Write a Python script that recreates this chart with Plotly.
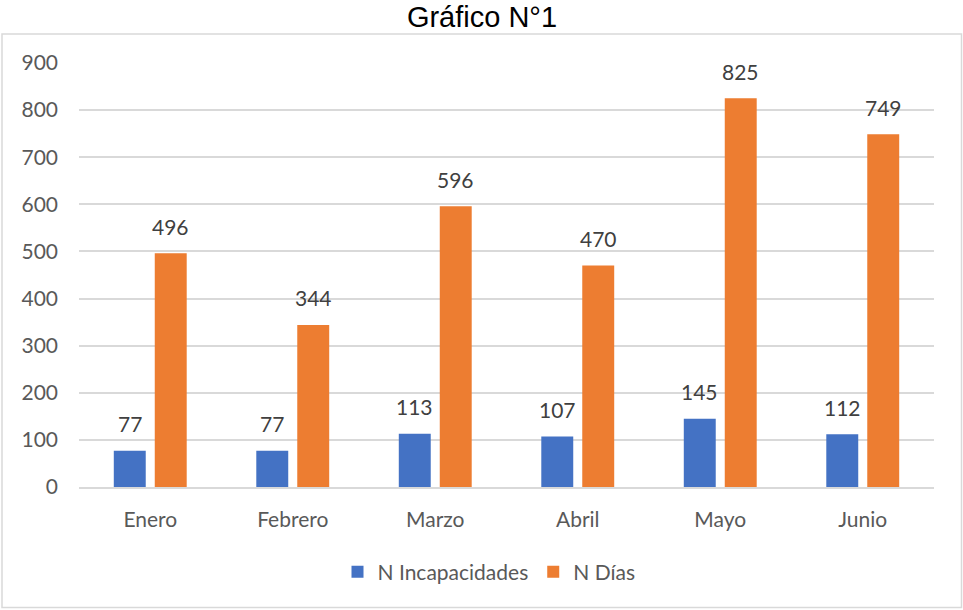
import plotly.graph_objects as go

meses = ["Enero", "Febrero", "Marzo", "Abril", "Mayo", "Junio"]
incapacidades = [77, 77, 113, 107, 145, 112]
dias = [496, 344, 596, 470, 825, 749]
y_ticks = [0, 100, 200, 300, 400, 500, 600, 700, 800, 900]

BLUE = "#4472C4"
ORANGE = "#ED7D31"
FONT = "Lato, 'Open Sans', sans-serif"
FS = 21

W, H = 963, 610
L, R, T, B = 79, 29, 63, 123
pw, ph = W - L - R, H - T - B

def px_x(x):
    return (x - L) / pw

def px_y(y):
    return (H - B - y) / ph

fig = go.Figure()
fig.add_trace(go.Bar(x=meses, y=incapacidades, name="N Incapacidades",
                     marker=dict(color=BLUE, line=dict(width=0))))
fig.add_trace(go.Bar(x=meses, y=dias, name="N Días",
                     marker=dict(color=ORANGE, line=dict(width=0))))

annotations = []
for series, shift in ((incapacidades, -20.5), (dias, 20.5)):
    for m, v in zip(meses, series):
        annotations.append(dict(x=m, y=v, xref="x", yref="y", text=str(v),
                                showarrow=False, xshift=shift, yshift=27,
                                font=dict(family=FONT, size=FS, color="#404040")))

fig.update_layout(
    width=W, height=H,
    margin=dict(l=L, r=R, t=T, b=B),
    paper_bgcolor="white", plot_bgcolor="white",
    barmode="group", bargap=0.425, bargroupgap=0.22,
    title=dict(text="Gráfico N°1", x=482 / W, xanchor="center",
               y=1 - 17 / H, yanchor="middle", yref="container",
               font=dict(family="Arial, 'Liberation Sans', sans-serif", size=29, color="black")),
    xaxis=dict(showgrid=False, showline=True, linecolor="#d9d9d9", linewidth=1.5,
               ticks="", tickfont=dict(family=FONT, size=FS, color="#595959"),
               ticklabelstandoff=13, fixedrange=True),
    yaxis=dict(range=[0, 900], tickvals=y_ticks, showgrid=True, gridcolor="#d9d9d9",
               gridwidth=1.5, zeroline=False, showline=False, ticks="",
               tickfont=dict(family=FONT, size=FS, color="#595959"),
               ticklabelstandoff=20, fixedrange=True),
    legend=dict(orientation="h", x=px_x(489), xanchor="center", y=px_y(572), yanchor="middle",
                font=dict(family=FONT, size=FS, color="#595959"),
                itemwidth=30, traceorder="normal"),
    annotations=annotations,
    shapes=[dict(type="rect", xref="paper", yref="paper",
                 x0=px_x(2), x1=px_x(961.5), y0=px_y(607.5), y1=px_y(34),
                 line=dict(color="#d9d9d9", width=1.5), layer="below")],
)

fig.write_html("out.html", config={"displayModeBar": False},
               post_script="document.body.style.margin='0';document.body.style.padding='0';")
